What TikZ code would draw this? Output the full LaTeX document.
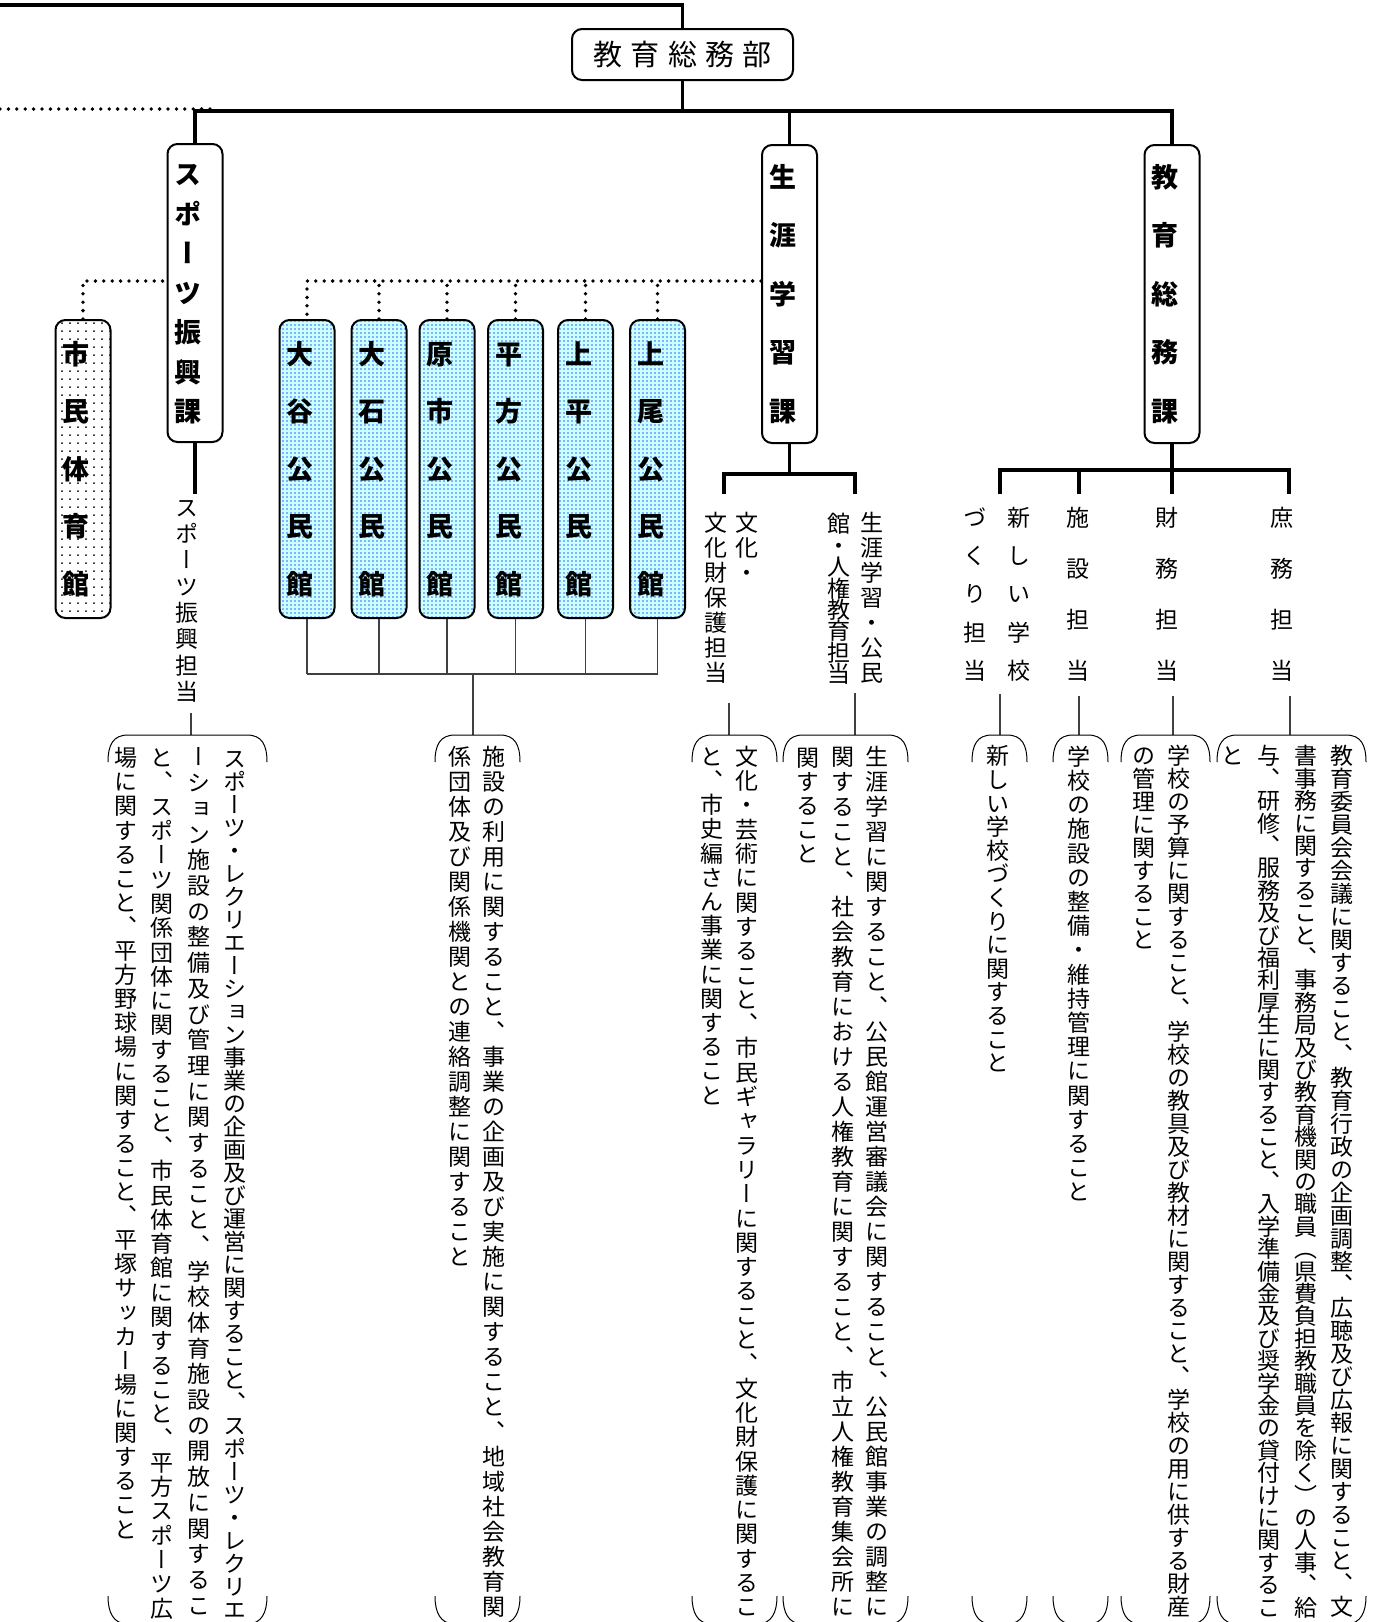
\documentclass[tikz,border=0pt]{standalone}
\usepackage{fontspec}
\setmainfont{Noto Sans CJK JP}[RawFeature=+vert]
\usetikzlibrary{patterns.meta,backgrounds}

\definecolor{kancyan}{HTML}{CCFFFF}
\definecolor{kanblue}{HTML}{3366FF}

% vertical writing: one glyph per cell, #1 = pitch of the cells
\newlength\tatestep
\makeatletter
\def\tate@end{\tate@end}
\newcommand\tate[2]{\vtop{\offinterlineskip\tatestep=#1\relax\tate@loop#2\tate@end}}
\def\tate@loop#1{\ifx#1\tate@end\else\tate@cell{#1}\expandafter\tate@loop\fi}
\def\tate@cell#1{\vbox to\tatestep{\vss\hbox to1em{\hss\vrule height.88em depth.12em width0pt#1\hss}\vss}}
\makeatother
\newcommand\boxtate[2]{\hbox{\tate{#1}{#2}\kern7pt}}
\newcommand\kakko[2]{%
  \draw[kakko] (#1,762) .. controls (#1,745) and (#1+5,735) .. (#1+20,735) -- (#2-20,735) .. controls (#2-5,735) and (#2,745) .. (#2,762);
  \draw[kakko] (#1,1596) .. controls (#1,1612) and (#1+5,1624) .. (#1+20,1624) -- (#2-20,1624) .. controls (#2-5,1624) and (#2,1612) .. (#2,1596);}

\tikzdeclarepattern{name=finedots,type=uncolored,
  bounding box={(0pt,0pt) and (2.2pt,2.2pt)},tile size={(2.2pt,2.2pt)},
  code={\fill (1.1pt,1.1pt) circle (0.5pt);}}
\tikzdeclarepattern{name=widedots,type=uncolored,
  bounding box={(0pt,0pt) and (4.2pt,4.2pt)},tile size={(4.2pt,4.2pt)},
  code={\fill (2.1pt,2.1pt) circle (0.55pt);}}

\begin{document}
\begin{tikzpicture}[x=0.5pt,y=-0.5pt,
    bu/.style={draw=black,line width=1pt,rounded corners=5pt,minimum width=110.5pt,minimum height=25.5pt,inner sep=0pt,font=\fontsize{14.5pt}{16pt}\selectfont},
    ka/.style={draw=black,line width=1pt,rounded corners=5pt,fill=white,minimum width=27.5pt,minimum height=149pt,inner sep=0pt,font=\fontsize{13.5pt}{15pt}\selectfont\bfseries},
    kan/.style={ka,preaction={fill=kancyan},pattern=finedots,pattern color=kanblue},
    gym/.style={ka,preaction={fill=white},pattern=widedots,pattern color=black},
    vtxt/.style={inner sep=0pt,anchor=north,font=\fontsize{11.5pt}{13pt}\selectfont},
    mainline/.style={line width=1.6pt,draw=black},
    subline/.style={line width=0.6pt,draw=black!75},
    dotline/.style={line width=1.9pt,line cap=round,dash pattern=on 0pt off 4.2pt},
    kakko/.style={line width=0.5pt,draw=black}
  ]
  \useasboundingbox (0,0) rectangle (1385,1622);
  \clip (0,0) rectangle (1385,1622);

  \node[bu] (Bu) at (682.5,54.5) {教\kern4.25pt 育\kern4.25pt 総\kern4.25pt 務\kern4.25pt 部};

  \node[ka] (Sp) at (195,293) {\boxtate{19.75pt}{スポーツ振興課}};
  \node[ka] (Sg) at (789.5,294) {\boxtate{29.25pt}{生涯学習課}};
  \node[ka] (Ks) at (1172,294) {\boxtate{29.25pt}{教育総務課}};

  \node[gym] (Gym) at (83,469) {\boxtate{28.75pt}{市民体育館}};
  \node[kan] (K1) at (307,469) {\boxtate{28.75pt}{大谷公民館}};
  \node[kan] (K2) at (379,469) {\boxtate{28.75pt}{大石公民館}};
  \node[kan] (K3) at (447,469) {\boxtate{28.75pt}{原市公民館}};
  \node[kan] (K4) at (515.5,469) {\boxtate{28.75pt}{平方公民館}};
  \node[kan] (K5) at (585.5,469) {\boxtate{28.75pt}{上平公民館}};
  \node[kan] (K6) at (657.5,469) {\boxtate{28.75pt}{上尾公民館}};

  % tanto labels
  \node[vtxt] (SpL) at (187,494) {\tate{13.15pt}{スポーツ振興担当}};
  \node[vtxt] (BnL) at (731.5,509.5) {\tate{12.5pt}{文化財保護担当}\hskip4pt\tate{12.5pt}{文化・}};
  \node[vtxt] (ShL) at (855.5,509.5) {\tate{10.7pt}{館・人権教育担当}\hskip5pt\tate{12.5pt}{生涯学習・公民}};
  \node[vtxt] (NsL) at (997,498) {\tate{19.125pt}{づくり担当}\hskip10.5pt\tate{19.125pt}{新しい学校}};
  \node[vtxt] (FcL) at (1078,491.5) {\tate{25.5pt}{施設担当}};
  \node[vtxt] (ZmL) at (1167,491.5) {\tate{25.5pt}{財務担当}};
  \node[vtxt] (SmL) at (1282,491.5) {\tate{25.5pt}{庶務担当}};

  % duties
  \node[vtxt] (D1) at (180.5,744) {\tate{12.05pt}{場に関すること、平方野球場に関すること、平塚サッカー場に関すること}\hskip6.65pt\tate{12.15pt}{と、スポーツ関係団体に関すること、市民体育館に関すること、平方スポーツ広}\hskip6.65pt\tate{12.85pt}{ーション施設の整備及び管理に関すること、学校体育施設の開放に関するこ}\hskip6.65pt\tate{11.5pt}{スポーツ・レクリエーション事業の企画及び運営に関すること、スポーツ・レクリエ}};
  \node[vtxt] (D2) at (477,744) {\tate{12.5pt}{係団体及び関係機関との連絡調整に関すること}\hskip5.5pt\tate{12.5pt}{施設の利用に関すること、事業の企画及び実施に関すること、地域社会教育関}};
  \node[vtxt] (D3) at (729.5,744) {\tate{12.1pt}{と、市史編さん事業に関すること}\hskip6pt\tate{12.15pt}{文化・芸術に関すること、市民ギャラリーに関すること、文化財保護に関するこ}};
  \node[vtxt] (D4) at (842.5,744) {\tate{12pt}{関すること}\hskip5.75pt\tate{12.5pt}{関すること、社会教育における人権教育に関すること、市立人権教育集会所に}\hskip5.75pt\tate{12.5pt}{生涯学習に関すること、公民館運営審議会に関すること、公民館事業の調整に}};
  \node[vtxt] (D5) at (998,744) {\tate{11.8pt}{新しい学校づくりに関すること}};
  \node[vtxt] (D6) at (1079,744) {\tate{12.1pt}{学校の施設の整備・維持管理に関すること}};
  \node[vtxt] (D7) at (1161.5,744) {\tate{11.5pt}{の管理に関すること}\hskip6pt\tate{11.5pt}{学校の予算に関すること、学校の教具及び教材に関すること、学校の用に供する財産}};
  \node[vtxt] (D8) at (1287.5,744) {\tate{11.5pt}{と}\hskip6.65pt\tate{11.2pt}{与、研修、服務及び福利厚生に関すること、入学準備金及び奨学金の貸付けに関するこ}\hskip6.65pt\tate{11.2pt}{書事務に関すること、事務局及び教育機関の職員（県費負担教職員を除く）の人事、給}\hskip6.65pt\tate{11.5pt}{教育委員会会議に関すること、教育行政の企画調整、広聴及び広報に関すること、文}};

  \coordinate (Tl) at (0,5);
  \coordinate (Dl) at (0,109);
  \coordinate (Bus) at (0,111);
  \coordinate (Dy) at (0,281);
  \coordinate (Kb) at (0,674);
  \coordinate (SgA) at (724,494);
  \coordinate (SgB) at (855,494);
  \coordinate (SgJ) at (789.5,474);
  \coordinate (KsA) at (1000,494);
  \coordinate (KsB) at (1079,494);
  \coordinate (KsD) at (1289,494);
  \coordinate (KsJ) at (1172,470);
  \coordinate (B1) at (191,735);
  \coordinate (B2) at (473,735);
  \coordinate (B3) at (729,735);
  \coordinate (B4) at (855,735);
  \coordinate (B5) at (1000,735);
  \coordinate (B6) at (1079,735);
  \coordinate (B7) at (1173,735);
  \coordinate (B8) at (1290,735);

  \begin{scope}[on background layer]
    \draw[dotline] (Dl) -- ++(215,0);
    \draw[dotline] (Gym.north) |- (Sp.east |- Dy);
    \draw[dotline] (Sg.west |- Dy) -| (K1.north);
    \foreach \k in {2,...,6}
      \draw[dotline] (K\k.north) -- (K\k.north |- Dy);
  \end{scope}

  \draw[mainline] (Tl) -| (Bu.north);
  \draw[mainline] (Bu.south) -- (Bu.south |- Bus);
  \draw[mainline] (Sp.north) |- (Ks.north |- Bus) -- (Ks.north);
  \draw[mainline] (Sg.north) -- (Sg.north |- Bus);

  \draw[mainline] (Sp.south) -- (Sp.south |- SpL.north);
  \draw[mainline] (Sg.south) -- (SgJ);
  \draw[mainline] (SgA) |- (SgJ) -| (SgB);
  \draw[mainline] (Ks.south) -- (Ks.south |- KsA);
  \draw[mainline] (KsA) |- (KsJ) -| (KsD);
  \draw[mainline] (KsB) -- (KsB |- KsJ);

  \foreach \k in {1,...,6}
    \draw[subline] (K\k.south) -- (K\k.south |- Kb);
  \draw[subline] (K1.south |- Kb) -- (K6.south |- Kb);
  \draw[subline] (B2 |- Kb) -- (B2);

  \draw[subline,shorten <=4pt] (SpL.south -| B1) -- (B1);
  \draw[subline,shorten <=9pt] (BnL.south -| B3) -- (B3);
  \draw[subline,shorten <=4pt] (ShL.south -| B4) -- (B4);
  \draw[subline,shorten <=2pt] (NsL.south -| B5) -- (B5);
  \draw[subline] (FcL.south -| B6) -- (B6);
  \draw[subline] (ZmL.south -| B7) -- (B7);
  \draw[subline] (SmL.south -| B8) -- (B8);

  \kakko{108}{267}
  \kakko{435}{520}
  \kakko{692}{777}
  \kakko{783}{908}
  \kakko{972}{1027}
  \kakko{1053}{1108}
  \kakko{1121}{1210}
  \kakko{1217}{1366}

\end{tikzpicture}
\end{document}
